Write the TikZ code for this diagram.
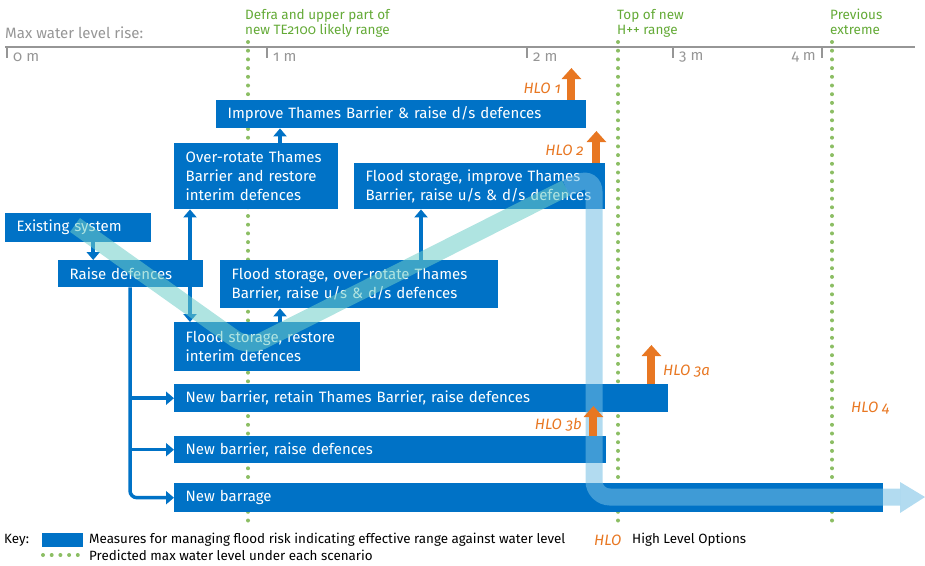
\documentclass[tikz,border=0pt]{standalone}
\usepackage{fontspec}
\setmainfont{Fira Sans}[Numbers=OldStyle]
\usetikzlibrary{arrows.meta,calc}
\definecolor{tblue}{RGB}{0,114,198}
\definecolor{tgreen}{RGB}{140,190,100}
\definecolor{tgreentext}{RGB}{100,170,55}
\definecolor{torange}{RGB}{232,119,34}
\definecolor{tgray}{RGB}{150,150,150}
\definecolor{tband}{RGB}{115,190,228}
\definecolor{tteal}{RGB}{110,205,200}
\begin{document}
\begin{tikzpicture}[x=1pt,y=-1pt,
  box/.style={fill=tblue,text=white,anchor=north west,inner xsep=11.5pt,inner ysep=0pt,align=left,font=\fontsize{15}{19}\selectfont},
  arr/.style={draw=tblue,line width=3.5pt,-{Triangle[width=13pt,length=8pt]}},
  arrboth/.style={draw=tblue,line width=3.5pt,{Triangle[width=13pt,length=8pt]}-{Triangle[width=13pt,length=8pt]}},
  hloarrow/.style={draw=torange,line width=8pt,-{Triangle[width=19pt,length=11pt]}},
  hlotext/.style={text=torange,font=\fontsize{15}{18}\selectfont\itshape,inner sep=0pt},
  dotline/.style={draw=tgreen,line width=4pt,line cap=round,dash pattern=on 0pt off 8.7pt},
  axisline/.style={draw=tgray,line width=1.3pt},
  axislabel/.style={text=tgray,font=\fontsize{15}{18}\selectfont,inner sep=0pt},
  greenlabel/.style={text=tgreentext,font=\fontsize{13.5}{15}\selectfont,align=left,anchor=north west,inner sep=0pt},
  bandstyle/.style={opacity=0.55,line width=17pt,rounded corners=16pt},
  keytext/.style={font=\fontsize{13.4}{15}\selectfont,anchor=west,inner sep=0pt}
]
\useasboundingbox (0,0) rectangle (925,565);

% axis
\node[axislabel,anchor=west] (axtitle) at (5,33) {Max water level rise:};
\draw[axisline] (5,47) -- (915,47);
\draw[axisline] (7,47) -- (7,58);
\draw[axisline] (267,47) -- (267,58);
\draw[axisline] (527,47) -- (527,58);
\draw[axisline] (673,47) -- (673,58);
\draw[axisline] (822,47) -- (822,58);
\node[axislabel,anchor=west] (t0) at (13,57) {0 m};
\node[axislabel,anchor=west] (t1) at (273,57) {1 m};
\node[axislabel,anchor=west] (t2) at (533,57) {2 m};
\node[axislabel,anchor=west] (t3) at (679,57) {3 m};
\node[axislabel,anchor=east] (t4) at (816,57) {4 m};

% green scenario lines
\draw[dotline] (248,42) -- (248,527);
\draw[dotline] (618,42) -- (618,527);
\draw[dotline] (832,42) -- (832,527);
\node[greenlabel] (g1) at (245,9) {Defra and upper part of\\new TE2100 likely range};
\node[greenlabel] (g2) at (617,9) {Top of new\\H++ range};
\node[greenlabel] (g3) at (830,9) {Previous\\extreme};

% boxes
\node[box,text width=347pt,minimum height=28pt] (imp) at (216,100) {Improve Thames Barrier \& raise d/s defences};
\node[box,text width=141pt,minimum height=66pt] (ovr) at (174,143) {\mbox{Over-rotate Thames}\\\mbox{Barrier and restore}\\\mbox{interim defences}};
\node[box,text width=228pt,minimum height=46pt] (fsi) at (354,163) {\mbox{Flood storage, improve Thames}\\\mbox{Barrier, raise u/s \& d/s defences}};
\node[box,text width=123pt,minimum height=29pt] (exist) at (5,213) {Existing system};
\node[box,text width=122pt,minimum height=27pt] (raise) at (58,260) {Raise defences};
\node[box,text width=255pt,minimum height=48pt] (fso) at (220,260) {\mbox{Flood storage, over-rotate Thames}\\\mbox{Barrier, raise u/s \& d/s defences}};
\node[box,text width=163pt,minimum height=49pt] (fsr) at (174,322) {\mbox{Flood storage, restore}\\\mbox{interim defences}};
\node[box,text width=471pt,minimum height=28pt] (nbr) at (174,384) {New barrier, retain Thames Barrier, raise defences};
\node[box,text width=409pt,minimum height=27pt] (nbd) at (174,436) {New barrier, raise defences};
\node[box,text width=686pt,minimum height=29pt] (barrage) at (174,483) {New barrage};

% connectors
\draw[arr] ([xshift=15pt]exist.south) -- ([xshift=15pt]exist.south |- raise.north);
\draw[arrboth] ([xshift=16pt]ovr.south west) -- ([xshift=16pt]fsr.north west);
\draw[arr] ([xshift=106pt]ovr.north west) -- ([xshift=106pt]ovr.north west |- imp.south);
\draw[arr] ([xshift=106pt]fsr.north west) -- ([xshift=106pt]fsr.north west |- fso.south);
\draw[arr] ([xshift=201pt]fso.north west) -- ([xshift=201pt]fso.north west |- fsi.south);
\coordinate (trunk) at ([xshift=72pt]raise.south west);
\draw[arr,rounded corners=7pt] (trunk) |- (barrage.west);
\draw[arr] (trunk |- nbr.west) -- (nbr.west);
\draw[arr] (trunk |- nbd.west) -- (nbd.west);

% pathway band
\coordinate (b0) at (75,225);
\coordinate (b1) at (248,348);
\coordinate (bs) at (566,188);
\coordinate (b2) at (594,176);
\coordinate (b3) at (594,497);
\coordinate (b4) at (900,497);
\draw[bandstyle,draw=tteal] (b0) -- (b1) -- (bs);
\draw[bandstyle,draw=tband] (bs) -- (b2) -- (b3) -- (b4);
\fill[tband,opacity=0.55] (900,482) -- (925,497) -- (900,513) -- cycle;

% high level option arrows
\draw[hloarrow] ([xshift=-15pt]imp.north east) -- ++(0,-32);
\draw[hloarrow] ([xshift=-9pt]fsi.north east) -- ++(0,-32);
\draw[hloarrow] ([xshift=-17pt]nbr.north east) -- ++(0,-39);
\draw[hloarrow] ([xshift=-13pt]nbd.north east) -- ++(0,-30);
\node[hlotext,anchor=east] (hlo1) at (561,88) {HLO 1};
\node[hlotext,anchor=east] (hlo2) at (584,150) {HLO 2};
\node[hlotext,anchor=west] (hlo3a) at (663,371) {HLO 3a};
\node[hlotext,anchor=east] (hlo3b) at (582,425) {HLO 3b};
\node[hlotext,anchor=west] (hlo4) at (851,408) {HLO 4};

% key
\node[keytext] (key) at (4,540) {Key:};
\node[fill=tblue,minimum width=41pt,minimum height=14pt,inner sep=0pt,anchor=west] (keybox) at (42,540) {};
\node[keytext] (keyt1) at (89,540) {Measures for managing flood risk indicating effective range against water level};
\draw[dotline] (43,555) -- (84,555);
\node[keytext] (keyt2) at (89,555) {Predicted max water level under each scenario};
\node[hlotext,anchor=west] (keyhlo) at (594,540) {HLO};
\node[keytext] (keyt3) at (632,540) {High Level Options};
\end{tikzpicture}
\end{document}
